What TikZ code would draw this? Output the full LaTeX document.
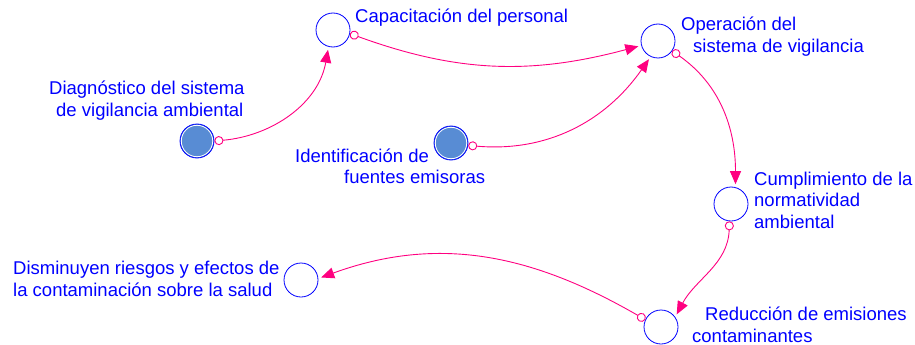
\documentclass[tikz,border=0pt]{standalone}
\usepackage{fontspec}
\setmainfont{Liberation Sans}
\usepackage{tikz}
\usetikzlibrary{arrows.meta}
\definecolor{vblue}{RGB}{0,0,255}
\definecolor{vpink}{RGB}{255,0,128}
\definecolor{vfill}{RGB}{88,140,212}
\tikzstyle{aux} = [circle, draw=vblue, line width=0.8pt, fill=white, minimum size=34pt, inner sep=0pt]
\tikzstyle{level} = [aux, fill=vfill, path picture={\draw[white, line width=0.8pt] (path picture bounding box.center) circle (15.7pt);}]
\tikzstyle{lbl} = [text=vblue, align=left, anchor=base west, inner sep=0pt, font=\fontsize{18.5}{21.5}\selectfont]
\tikzstyle{causal} = [vpink, line width=0.9pt, {Circle[open,length=9pt,width=9pt]}-{Triangle[length=13pt,width=11pt]}, shorten >=3pt]

\begin{document}
\begin{tikzpicture}[x=1pt, y=1pt]
    \useasboundingbox (0,0) rectangle (915,-345);
    \node[level] (diag) at (197,-141) {};
    \node[aux] (cap) at (333,-30) {};
    \node[level] (ident) at (451,-143) {};
    \node[aux] (oper) at (658,-41) {};
    \node[aux] (cumpl) at (731,-204) {};
    \node[aux] (reduc) at (661,-327) {};
    \node[aux] (dismi) at (301,-280) {};

    % Labels (base = last line)
    \node[lbl] (diaglbl) at (49,-116) {Diagnóstico del sistema\\\hspace*{7pt}de vigilancia ambiental};
    \node[lbl] (caplbl) at (355,-23) {Capacitación del personal};
    \node[lbl] (identlbl) at (295,-183.5) {Identificación de\\\hspace*{49pt}fuentes emisoras};
    \node[lbl] (operlbl) at (681,-52.5) {Operación del\\\hspace*{12pt}sistema de vigilancia};
    \node[lbl] (cumpllbl) at (754,-228) {Cumplimiento de la\\normatividad\\ambiental};
    \node[lbl] (reduclbl) at (692,-342) {\hspace*{13pt}Reducción de emisiones\\contaminantes};
    \node[lbl] (dismilbl) at (13,-296) {Disminuyen riesgos y efectos de\\la contaminación sobre la salud};

    % Links
    \draw[causal] (diag.east) to[out=5, in=-100] (cap.-105);
    \draw[causal] (cap.-12) to[out=-20, in=195] (oper.195);
    \draw[causal] (ident.-8) to[out=-5, in=-125] (oper.-115);
    \draw[causal] (oper.-35) to[out=-35, in=90] (cumpl.75);
    \draw[causal] (cumpl.-95) to[out=-92, in=62] (reduc.35);
    \draw[causal] (reduc.155) to[out=150, in=20] (dismi.5);
\end{tikzpicture}
\end{document}
